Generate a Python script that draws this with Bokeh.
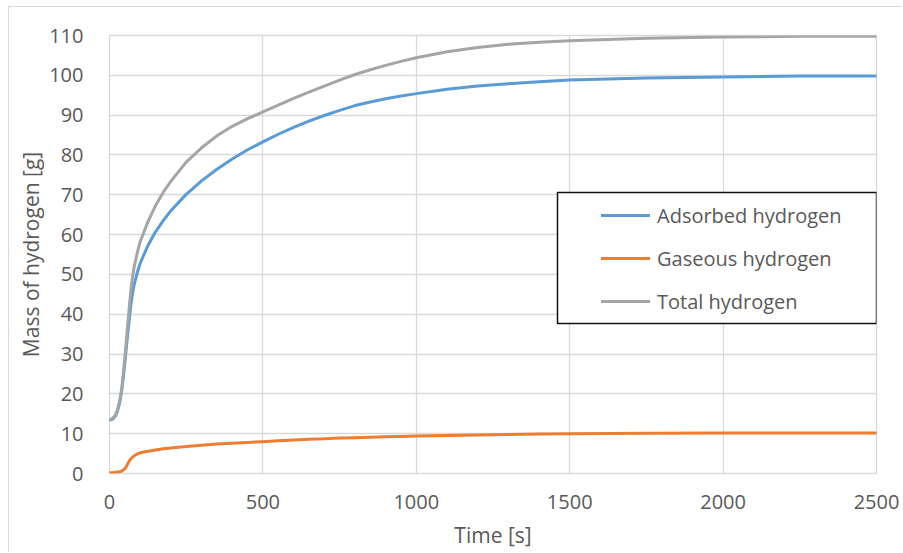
from bokeh.plotting import figure
from bokeh.models import Range1d, FixedTicker, Legend, LegendItem, BoxAnnotation
from bokeh.embed import file_html
from bokeh.resources import INLINE

# Hydrogen mass during charging, sampled over time
time_s = [0, 10, 20, 25, 30, 35, 40, 45, 50, 55, 60, 65, 70, 75, 80, 90, 100,
          125, 150, 175, 200,
          250, 300, 350, 400, 450, 500, 550, 600, 650, 700, 750, 800, 850, 900,
          950, 1000,
          1100, 1200, 1300, 1400, 1500,
          1750, 2000, 2250, 2500]
adsorbed_g = [13.4, 13.6, 14.5, 15.4, 16.8, 18.5, 20.9, 24.1, 27.8, 31.7, 35.5,
              39.1, 42.5, 45.2, 47.3, 50.3, 52.8,
              57.2, 60.7, 63.5, 66.0,
              70.1, 73.5, 76.4, 79.0, 81.3, 83.3, 85.2, 86.9, 88.5, 89.9, 91.2,
              92.4, 93.3, 94.1, 94.8, 95.4,
              96.5, 97.3, 97.9, 98.4, 98.8,
              99.3, 99.6, 99.8, 99.8]
gaseous_g = [0.2, 0.2, 0.3, 0.35, 0.4, 0.5, 0.6, 0.9, 1.2, 1.8, 2.5, 3.2, 3.7,
             4.1, 4.4, 4.9, 5.2,
             5.6, 5.9, 6.2, 6.4,
             6.8, 7.1, 7.4, 7.6, 7.8, 8.0, 8.2, 8.4, 8.6, 8.7, 8.9, 9.0, 9.1,
             9.2, 9.3, 9.4,
             9.55, 9.7, 9.8, 9.9, 10.0,
             10.1, 10.2, 10.2, 10.2]
total_g = [13.6, 13.8, 14.8, 15.8, 17.2, 19.0, 21.5, 25.0, 29.0, 33.5, 38.0,
           42.3, 46.2, 49.3, 51.7, 55.3, 58.2,
           63.2, 67.3, 70.6, 73.4,
           78.2, 81.8, 84.8, 87.2, 89.1, 90.8, 92.5, 94.2, 95.8, 97.3, 98.8,
           100.2, 101.4, 102.5, 103.5, 104.4,
           105.9, 107.0, 107.8, 108.3, 108.7,
           109.3, 109.6, 109.8, 109.8]

series_names = ["Adsorbed hydrogen", "Gaseous hydrogen", "Total hydrogen"]
series_colors = ["#5B9BD5", "#ED7D31", "#A5A5A5"]

x_ticks = [0, 500, 1000, 1500, 2000, 2500]
y_ticks = list(range(0, 111, 10))

# page layout (pixels): chart border at (8, 6), plot frame 109..876 x 35..473
PAGE_W, PAGE_H = 903, 553
EDGE_X, EDGE_Y = 8, 6
FRAME_L, FRAME_R, FRAME_T, FRAME_B = 109, 876, 35, 473
X_MAX, Y_MAX = 2500, 110
TEXT = "#595959"
GRID = "#d9d9d9"
FONT = "Open Sans"

canvas_x0, canvas_y0 = EDGE_X + 1, EDGE_Y + 1
W, H = PAGE_W - canvas_x0, PAGE_H - canvas_y0


def px_to_x(px):
    return (px - FRAME_L) / (FRAME_R - FRAME_L) * X_MAX


def px_to_y(py):
    return (FRAME_B - py) / (FRAME_B - FRAME_T) * Y_MAX


p = figure(width=W, height=H, output_backend="svg", toolbar_location=None,
           x_range=Range1d(0, X_MAX), y_range=Range1d(0, Y_MAX),
           min_border_left=FRAME_L - canvas_x0,
           min_border_right=PAGE_W - FRAME_R,
           min_border_top=FRAME_T - canvas_y0,
           min_border_bottom=PAGE_H - FRAME_B)
p.margin = (EDGE_Y, 0, 0, EDGE_X)
p.styles = {"border-left": f"1px solid {GRID}", "border-top": f"1px solid {GRID}"}
p.background_fill_color = "white"
p.border_fill_color = "white"
p.outline_line_color = GRID
p.outline_line_width = 1.3

p.xaxis.ticker = FixedTicker(ticks=x_ticks)
p.yaxis.ticker = FixedTicker(ticks=y_ticks)
for ax in (p.xaxis, p.yaxis):
    ax.axis_line_color = None
    ax.major_tick_line_color = None
    ax.minor_tick_line_color = None
    ax.major_label_text_font = FONT
    ax.major_label_text_font_size = "20px"
    ax.major_label_text_color = TEXT
    ax.axis_label_text_font = FONT
    ax.axis_label_text_font_size = "21px"
    ax.axis_label_text_font_style = "normal"
    ax.axis_label_text_color = TEXT
p.xaxis.axis_label = "Time [s]"
p.yaxis.axis_label = "Mass of hydrogen [g]"
p.xaxis.major_label_standoff = 15
p.xaxis.axis_label_standoff = 9
p.yaxis.major_label_standoff = 20
p.yaxis.axis_label_standoff = 1

for g in (p.xgrid, p.ygrid):
    g.grid_line_color = GRID
    g.grid_line_width = 1.3
p.xgrid.ticker = FixedTicker(ticks=x_ticks)
p.ygrid.ticker = FixedTicker(ticks=y_ticks)

renderers = []
for values, color in zip([adsorbed_g, gaseous_g, total_g], series_colors):
    r = p.line(time_s, values, line_color=color, line_width=3,
               line_join="round", line_cap="round")
    renderers.append(r)

# legend frame
p.add_layout(BoxAnnotation(left=px_to_x(557), right=X_MAX,
                           top=px_to_y(192), bottom=px_to_y(323),
                           fill_color="white", fill_alpha=1,
                           line_color="#111111", line_alpha=1,
                           line_width=1.5))

legend = Legend(items=[LegendItem(label=n, renderers=[r])
                       for n, r in zip(series_names, renderers)],
                location=(601 - FRAME_L, FRAME_B - 316),
                padding=0, margin=0, spacing=13,
                glyph_width=49, glyph_height=30, label_height=30,
                label_standoff=7,
                label_text_font=FONT, label_text_font_size="20px",
                label_text_color=TEXT,
                border_line_color=None, background_fill_alpha=0)
p.add_layout(legend)

open("out.html", "w").write(file_html(p, INLINE))
